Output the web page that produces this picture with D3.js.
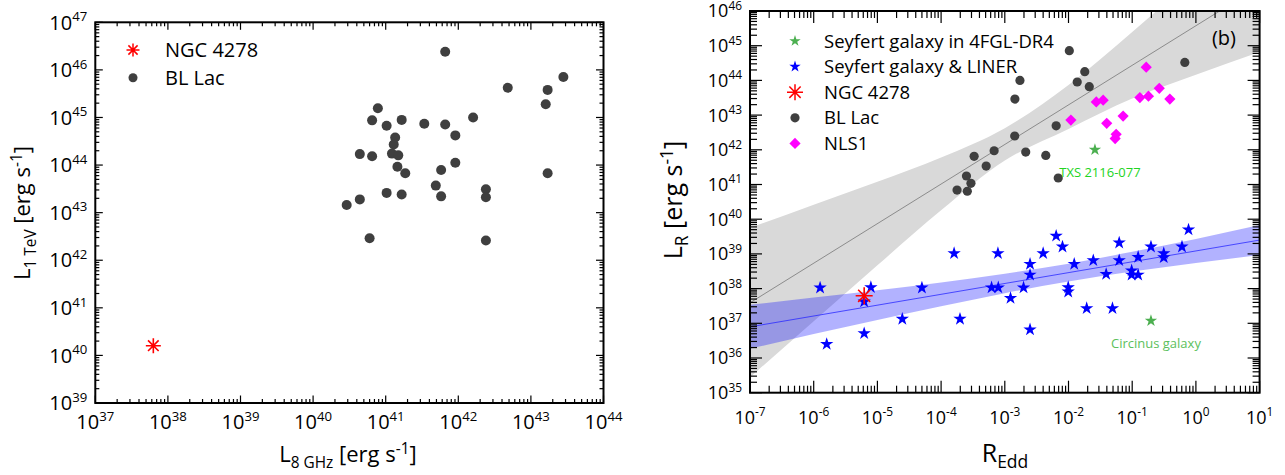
<!DOCTYPE html>
<html>
<head>
<meta charset="utf-8">
<script src="https://cdn.jsdelivr.net/npm/d3@7"></script>
<style>
    body { margin: 0; background: #fff; }
    svg text { font-family: "Open Sans", "Noto Sans", sans-serif; fill: #000; }
</style>
</head>
<body>
<svg id="chart" width="1285" height="475"></svg>
<script>
// ---- panel (a): L_1TeV vs L_8GHz ----
var blLacL8 = [6.6e41, 2.8e43, 4.8e42, 1.7e43, 1.6e43, 7.8e40, 6.5e40, 1.03e41, 1.66e41, 3.4e41, 6.6e41, 1.6e42,
    9.1e41, 1.35e41, 1.29e41, 4.4e40, 6.5e40, 1.22e41, 1.49e41, 1.45e41, 1.86e41, 9.1e41, 5.8e41, 1.7e43,
    4.9e41, 2.4e42, 2.4e42, 1.03e41, 1.66e41, 5.8e41, 4.4e40, 2.9e40, 6.0e40, 2.4e42];
var blLacL1TeV = [2.4e46, 7.1e45, 4.2e45, 3.8e45, 1.9e45, 1.56e45, 8.7e44, 6.7e44, 8.9e44, 7.4e44, 7.1e44, 1.0e45,
    4.2e44, 3.8e44, 2.7e44, 1.7e44, 1.53e44, 1.74e44, 1.6e44, 9.2e43, 6.7e43, 1.12e44, 7.9e43, 6.7e43,
    3.7e43, 3.1e43, 2.1e43, 2.6e43, 2.4e43, 2.2e43, 1.9e43, 1.45e43, 2.9e42, 2.6e42];
var ngcL8 = 6.3e37;
var ngcL1TeV = 1.6e40;

// ---- panel (b): L_R vs R_Edd ----
var blLacEdd = [1.78e-4, 2.58e-4, 2.5e-4, 2.94e-4, 3.3e-4, 5.1e-4, 6.8e-4, 1.43e-3, 2.13e-3, 4.4e-3, 6.4e-3,
    6.9e-3, 1.44e-3, 1.73e-3, 1.03e-2, 1.8e-2, 1.37e-2, 2.12e-2, 0.67];
var blLacLR = [6.9e40, 6.4e40, 1.76e41, 1.08e41, 6.5e41, 3.4e41, 9.4e41, 2.5e42, 8.6e41, 6.9e41, 4.9e42,
    1.54e41, 2.9e43, 1.0e44, 7.2e44, 1.78e44, 9.0e43, 6.6e43, 3.3e44];
var nls1Edd = [1.09e-2, 2.73e-2, 3.5e-2, 3.98e-2, 7.2e-2, 5.6e-2, 5.4e-2, 0.132, 0.18, 0.166, 0.266, 0.39];
var nls1LR = [7.2e42, 2.4e43, 2.7e43, 5.8e42, 9.4e42, 2.8e42, 2.1e42, 3.2e43, 3.5e43, 2.4e44, 5.9e43, 2.9e43];
var seyEdd = [1.26e-6, 1.6e-6, 6.2e-6, 6.2e-6, 7.9e-6, 2.46e-5, 5.0e-5, 1.6e-4, 1.98e-4, 6.2e-4, 7.8e-4, 7.9e-4,
    1.23e-3, 1.97e-3, 2.49e-3, 2.49e-3, 2.49e-3, 4.0e-3, 6.4e-3, 8.05e-3, 9.9e-3, 9.9e-3, 1.23e-2, 1.93e-2,
    2.45e-2, 3.9e-2, 4.9e-2, 6.25e-2, 6.25e-2, 9.8e-2, 9.8e-2, 0.124, 0.124, 0.197, 0.313, 0.313, 0.605, 0.766];
var seyLR = [1.06e38, 2.5e36, 4.2e37, 5.1e36, 1.09e38, 1.33e37, 1.06e38, 1.04e39, 1.33e37, 1.07e38, 1.04e39, 1.07e38,
    5.3e37, 1.07e38, 6.6e36, 2.5e38, 5.1e38, 1.04e39, 3.3e39, 1.61e39, 1.09e38, 8.1e37, 5.1e38, 2.7e37,
    6.5e38, 2.6e38, 2.7e37, 2.1e39, 6.5e38, 3.3e38, 2.5e38, 2.5e38, 8.1e38, 1.61e39, 1.04e39, 7.9e38, 1.61e39, 5.0e39];
var fermiNames = ["TXS 2116-077", "Circinus galaxy"];
var fermiEdd = [2.6e-2, 0.197];
var fermiLR = [1.0e42, 1.19e37];
var ngcEdd = 6.2e-6;
var ngcLR = 6.2e37;

// fits + confidence bands
var fitEdd = [1e-7, 10];
var blFitLR = [3.9e37, 5.2e46];
var seyFitLR = [7.9e36, 2.5e39];
var bandEdd = [1e-7, 1e-6, 1e-5, 1e-4, 1e-3, 1e-2, 1e-1, 1, 10];
var blBandUp = [5.6e39, 2.6e40, 1.2e41, 6.0e41, 4.2e42, 7.4e43, 2.5e45, 9.8e46, 4e48];
var blBandLo = [2.8e35, 1.15e37, 4.7e38, 1.8e40, 4.9e41, 4.0e42, 3.0e43, 1.45e44, 6.6e44];
var seyBandUp = [3.4e37, 5.5e37, 9.0e37, 1.5e38, 2.7e38, 5.2e38, 1.15e39, 2.7e39, 6.8e39];
var seyBandLo = [1.86e36, 4.9e36, 1.25e37, 3.1e37, 7.4e37, 1.6e38, 3.1e38, 5.5e38, 9.3e38];

var svg = d3.select("#chart");

function zip(a, b) {
    var out = [];
    for (var i = 0; i < a.length; i++) out.push([a[i], b[i]]);
    return out;
}

function asterisk(r) {
    var p = "";
    for (var i = 0; i < 4; i++) {
        var a = i * Math.PI / 4;
        var dx = r * Math.cos(a), dy = r * Math.sin(a);
        p += "M" + (-dx) + "," + (-dy) + "L" + dx + "," + dy;
    }
    return p;
}
function starPath(r) {
    return d3.symbol().type(d3.symbolStar).size(r * r / 0.8908)();
}
function diamondPath(h) {
    return "M0," + (-h) + "L" + h + ",0L0," + h + "L" + (-h) + ",0Z";
}

// log axis with inward ticks on all four sides, labels on bottom and left
function drawFrame(g, x, y, o) {
    var x0 = x.range()[0], x1 = x.range()[1], y0 = y.range()[0], y1 = y.range()[1];
    var ticks = g.append("g").attr("stroke", "#000").attr("stroke-width", 1.2);
    function each(scale, fn) {
        var d = scale.domain();
        var lo = Math.round(Math.log10(d[0])), hi = Math.round(Math.log10(d[1]));
        for (var k = lo; k <= hi; k++) {
            fn(Math.pow(10, k), true, k);
            if (k < hi) for (var m = 2; m < 10; m++) fn(m * Math.pow(10, k), false, k);
        }
    }
    each(x, function (v, major) {
        var px = x(v), len = major ? o.major : o.minor;
        ticks.append("line").attr("x1", px).attr("x2", px).attr("y1", y0).attr("y2", y0 - len);
        ticks.append("line").attr("x1", px).attr("x2", px).attr("y1", y1).attr("y2", y1 + len);
    });
    each(y, function (v, major) {
        var py = y(v), len = major ? o.major : o.minor;
        ticks.append("line").attr("x1", x0).attr("x2", x0 + len).attr("y1", py).attr("y2", py);
        ticks.append("line").attr("x1", x1).attr("x2", x1 - len).attr("y1", py).attr("y2", py);
    });
    g.append("rect").attr("x", x0).attr("y", y1).attr("width", x1 - x0).attr("height", y0 - y1)
            .attr("fill", "none").attr("stroke", "#000").attr("stroke-width", 2);
    each(x, function (v, major, k) {
        if (!major) return;
        var t = g.append("text").attr("x", x(v)).attr("y", y0 + o.xlab)
                .attr("text-anchor", "middle").style("font-size", o.fs + "px");
        t.append("tspan").text("10");
        t.append("tspan").attr("dy", -o.fs * 0.42).style("font-size", (o.fs * 0.66) + "px").text(k);
    });
    each(y, function (v, major, k) {
        if (!major) return;
        var t = g.append("text").attr("x", x0 - o.ylab).attr("y", y(v) + o.fs * 0.36)
                .attr("text-anchor", "end").style("font-size", o.fs + "px");
        t.append("tspan").text("10");
        t.append("tspan").attr("dy", -o.fs * 0.42).style("font-size", (o.fs * 0.66) + "px").text(k);
    });
}

function subLabel(g, x, y, main, sub, rest, fs, rotate) {
    var t = g.append("text").attr("text-anchor", "middle").style("font-size", fs + "px");
    if (rotate) t.attr("transform", "translate(" + x + "," + y + ") rotate(-90)");
    else t.attr("x", x).attr("y", y);
    t.append("tspan").text(main);
    t.append("tspan").attr("dy", fs * 0.25).style("font-size", (fs * 0.7) + "px").text(sub);
    t.append("tspan").attr("dy", -fs * 0.25).text(" " + rest[0]);
    t.append("tspan").attr("dy", -fs * 0.38).style("font-size", (fs * 0.7) + "px").text(rest[1]);
    t.append("tspan").attr("dy", fs * 0.38).text(rest[2]);
}

// ================= panel a =================
var xa = d3.scaleLog().domain([1e37, 1e44]).range([95.3, 603.5]);
var ya = d3.scaleLog().domain([1e39, 1e47]).range([403, 22.3]);
var ga = svg.append("g");

ga.append("g").selectAll("circle").data(zip(blLacL8, blLacL1TeV)).enter().append("circle")
        .attr("cx", function (d) { return xa(d[0]); })
        .attr("cy", function (d) { return ya(d[1]); })
        .attr("r", 5).attr("fill", "#3f3f3f");
ga.append("path").attr("d", asterisk(7.5))
        .attr("transform", "translate(" + xa(ngcL8) + "," + ya(ngcL1TeV) + ")")
        .attr("stroke", "#ff0000").attr("stroke-width", 1.6).attr("fill", "none");

drawFrame(ga, xa, ya, {major: 7.5, minor: 4, fs: 20, xlab: 26, ylab: 8});

ga.append("path").attr("d", asterisk(6.5)).attr("transform", "translate(133,50)")
        .attr("stroke", "#ff0000").attr("stroke-width", 1.5).attr("fill", "none");
ga.append("text").attr("x", 165).attr("y", 57).style("font-size", "20px").text("NGC 4278");
ga.append("circle").attr("cx", 133).attr("cy", 77.7).attr("r", 4.5).attr("fill", "#3f3f3f");
ga.append("text").attr("x", 165).attr("y", 85).style("font-size", "20px").text("BL Lac");

subLabel(ga, 348, 462, "L", "8 GHz", ["[erg s", "-1", "]"], 22, false);
subLabel(ga, 30, 213, "L", "1 TeV", ["[erg s", "-1", "]"], 22, true);

// ================= panel b =================
var xb = d3.scaleLog().domain([1e-7, 10]).range([750, 1259.6]);
var yb = d3.scaleLog().domain([1e35, 1e46]).range([392.7, 11]);
var gb = svg.append("g");

gb.append("clipPath").attr("id", "clipb").append("rect")
        .attr("x", 750).attr("y", 11).attr("width", 509.6).attr("height", 381.7);
var plot = gb.append("g").attr("clip-path", "url(#clipb)");

var band = d3.area()
        .x(function (d) { return xb(d[0]); })
        .y0(function (d) { return yb(d[1]); })
        .y1(function (d) { return yb(d[2]); })
        .curve(d3.curveMonotoneX);
var line = d3.line()
        .x(function (d) { return xb(d[0]); })
        .y(function (d) { return yb(d[1]); });
function band3(a, lo, up) {
    var out = [];
    for (var i = 0; i < a.length; i++) out.push([a[i], lo[i], up[i]]);
    return out;
}
plot.append("path").datum(band3(bandEdd, blBandLo, blBandUp)).attr("d", band).attr("fill", "#d9d9d9");
plot.append("path").datum(band3(bandEdd, seyBandLo, seyBandUp)).attr("d", band)
        .attr("fill", "#0000ff").attr("fill-opacity", 0.3);
plot.append("path").datum(zip(fitEdd, blFitLR)).attr("d", line)
        .attr("stroke", "#777").attr("stroke-width", 0.8).attr("fill", "none");
plot.append("path").datum(zip(fitEdd, seyFitLR)).attr("d", line)
        .attr("stroke", "#2b2bff").attr("stroke-width", 0.8).attr("fill", "none");

plot.append("g").selectAll("circle").data(zip(blLacEdd, blLacLR)).enter().append("circle")
        .attr("cx", function (d) { return xb(d[0]); })
        .attr("cy", function (d) { return yb(d[1]); })
        .attr("r", 4.6).attr("fill", "#3f3f3f");
plot.append("g").selectAll("path").data(zip(nls1Edd, nls1LR)).enter().append("path")
        .attr("d", diamondPath(5.6))
        .attr("transform", function (d) { return "translate(" + xb(d[0]) + "," + yb(d[1]) + ")"; })
        .attr("fill", "#ff00ff");
plot.append("g").selectAll("path").data(zip(seyEdd, seyLR)).enter().append("path")
        .attr("d", starPath(7))
        .attr("transform", function (d) { return "translate(" + xb(d[0]) + "," + yb(d[1]) + ")"; })
        .attr("fill", "#0000ff");
plot.append("g").selectAll("path").data(zip(fermiEdd, fermiLR)).enter().append("path")
        .attr("d", starPath(6.5))
        .attr("transform", function (d) { return "translate(" + xb(d[0]) + "," + yb(d[1]) + ")"; })
        .attr("fill", "#4caf50");
plot.append("path").attr("d", asterisk(8.5))
        .attr("transform", "translate(" + xb(ngcEdd) + "," + yb(ngcLR) + ")")
        .attr("stroke", "#ff0000").attr("stroke-width", 1.6).attr("fill", "none");

var fermiColors = ["#22d422", "#5cbf5c"];
for (var i = 0; i < fermiNames.length; i++) {
    gb.append("text").attr("x", xb(fermiEdd[i]) + 5).attr("y", yb(fermiLR[i]) + 27)
            .attr("text-anchor", "middle").style("font-size", "13px").style("fill", fermiColors[i])
            .text(fermiNames[i]);
}

drawFrame(gb, xb, yb, {major: 12, minor: 7, fs: 18, xlab: 31, ylab: 8});

var legItems = [
    {label: "Seyfert galaxy in 4FGL-DR4", kind: "star", color: "#4caf50"},
    {label: "Seyfert galaxy & LINER", kind: "star", color: "#0000ff"},
    {label: "NGC 4278", kind: "ast", color: "#ff0000"},
    {label: "BL Lac", kind: "circ", color: "#3f3f3f"},
    {label: "NLS1", kind: "diam", color: "#ff00ff"}
];
legItems.forEach(function (it, i) {
    var ly = 41 + i * 25.6;
    var sym;
    if (it.kind == "star") sym = gb.append("path").attr("d", starPath(6)).attr("fill", it.color);
    else if (it.kind == "ast") sym = gb.append("path").attr("d", asterisk(8)).attr("stroke", it.color)
                .attr("stroke-width", 1.5).attr("fill", "none");
    else if (it.kind == "circ") sym = gb.append("circle").attr("r", 4.6).attr("fill", it.color);
    else sym = gb.append("path").attr("d", diamondPath(5.6)).attr("fill", it.color);
    sym.attr("transform", "translate(795," + ly + ")");
    gb.append("text").attr("x", 824).attr("y", ly + 6.5).style("font-size", "18.5px").text(it.label);
});
gb.append("text").attr("x", 1224).attr("y", 45).attr("text-anchor", "middle").style("font-size", "20px").text("(b)");

subLabel(gb, 1005, 462, "R", "Edd", ["", "", ""], 25, false);
subLabel(gb, 682, 200, "L", "R", ["[erg s", "-1", "]"], 25, true);
</script>
</body>
</html>
